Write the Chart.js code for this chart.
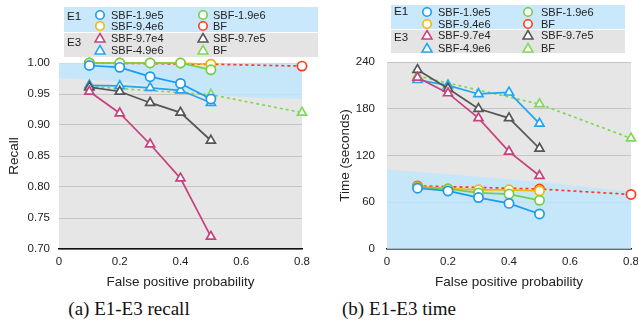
<!DOCTYPE html>
<html><head><meta charset="utf-8">
<script src="https://cdn.jsdelivr.net/npm/chart.js@4/dist/chart.umd.min.js"></script>
<style>
body{margin:0;width:638px;height:327px;overflow:hidden;background:#fff;position:relative;font-family:"Liberation Sans",Arial,sans-serif;}
canvas{position:absolute;top:0}
.box{position:absolute}
.lt{position:absolute;font-size:11px;color:#222;transform:translateY(-50%);white-space:nowrap;line-height:1}
.mk{position:absolute;transform:translate(-50%,-50%)}
.cap{position:absolute;font-family:"Liberation Serif",serif;font-size:19px;top:309px;transform:translate(-50%,-50%);white-space:nowrap;color:#111}
</style></head><body>
<canvas id="k1" width="320" height="292" style="left:0"></canvas>
<canvas id="k2" width="330" height="292" style="left:320px"></canvas>
<div id="leg"></div>
<div class="cap" style="left:129px">(a) E1-E3 recall</div>
<div class="cap" style="left:399px">(b) E1-E3 time</div>
<script>
// ---- data ----
const fpSBF = [0.1, 0.2, 0.3, 0.4, 0.5];
const fpBF = [0.1, 0.5, 0.8];
const xTickLabels = ['0', '0.2', '0.4', '0.6', '0.8'];
const recallTickLabels = ['0.70', '0.75', '0.80', '0.85', '0.90', '0.95', '1.00'];
const timeTickLabels = ['0', '60', '120', '180', '240'];

const e1Names = ['SBF-1.9e5', 'SBF-1.9e6', 'SBF-9.4e6', 'BF'];
const e3Names = ['SBF-9.7e4', 'SBF-9.7e5', 'SBF-4.9e6', 'BF'];

// recall
const recE1_sbf19e5 = [0.996, 0.993, 0.978, 0.967, 0.942];
const recE1_sbf19e6 = [1.0, 1.0, 1.0, 1.0, 0.989];
const recE1_sbf94e6 = [1.0, 1.0, 1.0, 1.0, 0.998];
const recE1_bf = [1.0, 0.998, 0.995];
const recE3_sbf97e4 = [0.954, 0.919, 0.869, 0.814, 0.720];
const recE3_sbf97e5 = [0.961, 0.954, 0.936, 0.920, 0.875];
const recE3_sbf49e6 = [0.964, 0.963, 0.960, 0.956, 0.936];
const recE3_bf = [0.962, 0.949, 0.920];

// time (seconds)
const timeE1_sbf19e5 = [78, 74.5, 66, 58.5, 45];
const timeE1_sbf19e6 = [79, 77, 72, 70.5, 62.5];
const timeE1_sbf94e6 = [80, 77.5, 76, 76, 74.5];
const timeE1_bf = [81, 77, 70];
const timeE3_sbf97e4 = [220, 200, 168, 125, 94];
const timeE3_sbf97e5 = [230, 206, 180, 168, 129];
const timeE3_sbf49e6 = [217, 210, 199, 201, 161];
const timeE3_bf = [222, 186, 142];

// shaded E1 regions
const recShadeX = [0, 0.2, 0.4, 0.5, 0.6, 0.8];
const recShadeY = [0.976, 0.970, 0.957, 0.949, 0.945, 0.942];
const timeShadeX = [0, 0.5, 0.8];
const timeShadeY = [102, 86, 73.5];

// ---- styles ----
const C = {blue:'#1a9bf2', green:'#72cf45', orange:'#f7b500', red:'#ff3a1c', magenta:'#c8417f', gray:'#555555', blue2:'#1fa6f2', lgreen:'#7ed957'};
const e1Colors = [C.blue, C.green, C.orange, C.red];
const e3Colors = [C.magenta, C.gray, C.blue2, C.lgreen];

function pts(xs, ys){ return xs.map((x,i)=>({x:x, y:ys[i]})); }
function ds(label, xs, ys, color, style, dashed, order){
  return {label, data: pts(xs, ys), borderColor: color, backgroundColor:'#fff',
    pointBorderColor: color, pointBackgroundColor:'#fff', pointStyle: style,
    pointRadius: style==='circle'?4.6:5.2, pointBorderWidth: 1.7, borderWidth: 1.7,
    borderDash: dashed?[3,3]:[], fill:false, tension:0, order};
}

const bgPlugin = {id:'bg', beforeDraw(chart){
  const {ctx, chartArea:a} = chart; ctx.save(); ctx.fillStyle='#e6e6e6';
  ctx.fillRect(a.left, a.top, a.right-a.left, a.bottom-a.top); ctx.restore(); }};

function makeChart(id, cfg){
  const sets = [
    {label:'shade', data: pts(cfg.shadeX, cfg.shadeY), borderWidth:0, pointRadius:0,
     backgroundColor:'rgba(190,230,255,0.8)', fill: cfg.shadeFill, cubicInterpolationMode:'monotone', order:100},
    ds(e3Names[0], fpSBF, cfg.e3[0], e3Colors[0], 'triangle', false, 20),
    ds(e3Names[1], fpSBF, cfg.e3[1], e3Colors[1], 'triangle', false, 20),
    ds(e3Names[2], fpSBF, cfg.e3[2], e3Colors[2], 'triangle', false, 20),
    ds(e3Names[3], fpBF, cfg.e3[3], e3Colors[3], 'triangle', true, 21),
    ds(e1Names[3], fpBF, cfg.e1[3], e1Colors[3], 'circle', true, 12),
    ds(e1Names[1], fpSBF, cfg.e1[1], e1Colors[1], 'circle', false, 11),
    ds(e1Names[2], fpSBF, cfg.e1[2], e1Colors[2], 'circle', false, 11),
    ds(e1Names[0], fpSBF, cfg.e1[0], e1Colors[0], 'circle', false, 10),
  ];
  return new Chart(document.getElementById(id), {
    type:'line', data:{datasets: sets}, plugins:[bgPlugin],
    options:{responsive:false, animation:false, devicePixelRatio:1,
      layout:{padding:{top:cfg.top, left:0, right:cfg.right, bottom:0}},
      plugins:{legend:{display:false}, tooltip:{enabled:false}},
      clip:false,
      scales:{
        x:{type:'linear', min:0, max:0.8,
           ticks:{stepSize:0.2, padding:6, color:'#222', font:{family:'Liberation Sans', size:11.5},
             callback:(v,i)=>xTickLabels[i]},
           grid:{display:false, drawTicks:false},
           border:{display:true, color:'#111', width:1.5},
           title:{display:true, text:'False positive probability', color:'#222',
             font:{family:'Liberation Sans', size:13.5}, padding:{top:0,bottom:2}},
           afterFit:(s)=>{s.height = 292 - 249;}},
        y:{type:'linear', min:cfg.ymin, max:cfg.ymax,
           ticks:{stepSize:cfg.step, padding:cfg.tpad, color:'#222', font:{family:'Liberation Sans', size:11.5},
             callback:(v,i)=>cfg.tickLabels[i]},
           grid:{color:'#c4c4c4', lineWidth:1, drawTicks:false},
           border:{display:false},
           title:{display:true, text:cfg.ytitle, color:'#222',
             font:{family:'Liberation Sans', size:13.5}, padding:{top:cfg.titlePad,bottom:0}},
           afterFit:(s)=>{s.width = cfg.yw;}}
      }}
  });
}

makeChart('k1', {shadeX:recShadeX, shadeY:recShadeY, shadeFill:'end',
  e1:[recE1_sbf19e5, recE1_sbf19e6, recE1_sbf94e6, recE1_bf],
  e3:[recE3_sbf97e4, recE3_sbf97e5, recE3_sbf49e6, recE3_bf],
  top:63, right:18, ymin:0.7, ymax:1.0, step:0.05, tickLabels:recallTickLabels, tpad:9,
  ytitle:'Recall', titlePad:6, yw:59});
makeChart('k2', {shadeX:timeShadeX, shadeY:timeShadeY, shadeFill:'origin',
  e1:[timeE1_sbf19e5, timeE1_sbf19e6, timeE1_sbf94e6, timeE1_bf],
  e3:[timeE3_sbf97e4, timeE3_sbf97e5, timeE3_sbf49e6, timeE3_bf],
  top:62, right:19, ymin:0, ymax:240, step:60, tickLabels:timeTickLabels, tpad:12,
  ytitle:'Time (seconds)', titlePad:17, yw:67});

// ---- legends (HTML) ----
function marker(style, color){
  if(style==='circle') return `<svg width="12" height="12"><circle cx="6" cy="6" r="4.2" fill="#fff" stroke="${color}" stroke-width="1.6"/></svg>`;
  return `<svg width="13" height="12"><polygon points="6.5,1.5 11.5,10 1.5,10" fill="#fff" stroke="${color}" stroke-width="1.5"/></svg>`;
}
function legend(L){
  let h = '';
  h += `<div class="box" style="left:${L.x}px;top:${L.e1y}px;width:${L.w}px;height:${L.e1h}px;background:#c9e8fb"></div>`;
  h += `<div class="box" style="left:${L.x}px;top:${L.e3y}px;width:${L.w}px;height:${L.e3h}px;background:#e4e4e4"></div>`;
  h += `<div class="lt" style="left:${L.x+3}px;top:${L.gy[0]}px;font-size:11.5px">E1</div>`;
  h += `<div class="lt" style="left:${L.x+3}px;top:${L.gy[1]}px;font-size:11.5px">E3</div>`;
  const items = [
    [e1Names[0], e1Colors[0], 'circle', 0, 0], [e1Names[1], e1Colors[1], 'circle', 1, 0],
    [e1Names[2], e1Colors[2], 'circle', 0, 1], [e1Names[3], e1Colors[3], 'circle', 1, 1],
    [e3Names[0], e3Colors[0], 'triangle', 0, 2], [e3Names[1], e3Colors[1], 'triangle', 1, 2],
    [e3Names[2], e3Colors[2], 'triangle', 0, 3], [e3Names[3], e3Colors[3], 'triangle', 1, 3]];
  items.forEach(([n,c,s,col,row])=>{
    const mx = L.mx[col], tx = L.tx[col], y = L.ry[row];
    h += `<div class="mk" style="left:${mx}px;top:${y}px;line-height:0">${marker(s,c)}</div>`;
    h += `<div class="lt" style="left:${tx}px;top:${y}px">${n}</div>`;
  });
  return h;
}
document.getElementById('leg').innerHTML =
  legend({x:64, w:254, e1y:7, e1h:25, e3y:33, e3h:24, gy:[17,43], mx:[100,203], tx:[111,213], ry:[15,25.5,37.5,50]}) +
  legend({x:391, w:234, e1y:5, e1h:24, e3y:30, e3h:23, gy:[12,38], mx:[427,528], tx:[438,541], ry:[12,23.5,35,47.5]});
</script>
</body></html>
